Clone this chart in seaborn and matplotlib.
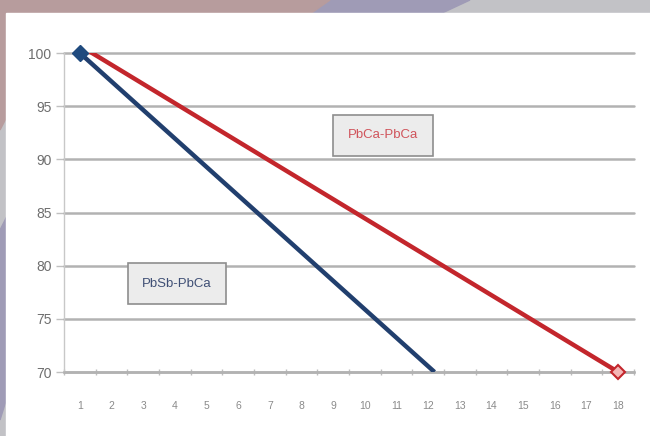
import matplotlib
matplotlib.use("Agg")
import matplotlib.pyplot as plt
from matplotlib.patches import Polygon
import seaborn as sns
import pandas as pd

# Series data: capacity (%) against cycle index
x_ticks = list(range(1, 19))
y_ticks = [70, 75, 80, 85, 90, 95, 100]

pbsb_x = [1, 12.2]
pbsb_y = [100, 70]
pbca_x = [1.22, 18]
pbca_y = [100.3, 70]

label_pbca = "PbCa-PbCa"
label_pbsb = "PbSb-PbCa"

sns.set_theme(style="white")
plt.rcParams['font.family'] = ['Liberation Sans Narrow', 'Liberation Sans', 'DejaVu Sans']

W, H = 650, 436
fig = plt.figure(figsize=(W / 100, H / 100), dpi=100)

# Decorative slide background
bg = fig.add_axes([0, 0, 1, 1])
bg.set_xlim(0, W)
bg.set_ylim(H, 0)
bg.axis("off")
bg.add_patch(Polygon([[0, 0], [W, 0], [W, H], [0, H]], color="#c2c2c6"))
bg.add_patch(Polygon([[130, 0], [470, 0], [440, 14], [110, 14], [0, 230], [0, 420]], color="#9f9bb6"))
bg.add_patch(Polygon([[0, 0], [330, 0], [310, 14], [60, 14], [0, 130]], color="#b79c9d"))
bg.add_patch(Polygon([[6, 13], [W, 13], [W, H], [6, H]], color="white"))

# Plot area
left, right = 64 / W, 634 / W
bottom, top = (H - 372) / H, (H - 53) / H
ax = fig.add_axes([left, bottom, right - left, top - bottom])
ax.set_facecolor("none")

df_sb = pd.DataFrame({"x": pbsb_x, "y": pbsb_y})
df_ca = pd.DataFrame({"x": pbca_x, "y": pbca_y})

sns.lineplot(data=df_ca, x="x", y="y", ax=ax, color="#c3262c", lw=3.2,
             solid_capstyle="butt", zorder=4)
sns.lineplot(data=df_sb, x="x", y="y", ax=ax, color="#213f6e", lw=3.2,
             solid_capstyle="butt", zorder=5)
ax.plot(pbsb_x[:1], pbsb_y[:1], marker="D", ms=8, color="#1f4a7e",
        ls="none", clip_on=False, zorder=6)
ax.plot(pbca_x[-1:], pbca_y[-1:], marker="D", ms=7, mfc="#f4b6b6",
        mec="#c3262c", mew=1.5, ls="none", clip_on=False, zorder=6)

ax.set_xlim(0.5, 18.5)
ax.set_ylim(70, 100)
ax.set_yticks(y_ticks)
ax.set_xticks(x_ticks)
ax.set_xticks([v + 0.5 for v in range(0, 19)], minor=True)
ax.set_xlabel("")
ax.set_ylabel("")

for yv in y_ticks:
    ax.axhline(yv, color="#b2b2b2", lw=1.8, zorder=1, clip_on=False)

for s in ["top", "right"]:
    ax.spines[s].set_visible(False)
ax.spines["left"].set_color("#c8c8c8")
ax.spines["left"].set_linewidth(1)
ax.spines["bottom"].set_color("#b2b2b2")
ax.spines["bottom"].set_linewidth(1.8)

ax.tick_params(axis="y", length=6, width=1, color="#c0c0c0", labelsize=10,
               labelcolor="#6e6e6e", pad=3, left=True)
ax.tick_params(axis="x", which="major", length=0, labelsize=7.5,
               labelcolor="#8a8a8a", pad=21)
ax.tick_params(axis="x", which="minor", length=4, width=1, color="#bdbdbd",
               direction="inout", bottom=True)

# Series labels in framed boxes
box_style = dict(boxstyle="square,pad=1.1", fc="#ececec", ec="#8e8e8e", lw=1.2)
ax.text(10.57, 92.25, label_pbca, ha="center", va="center", fontsize=9.5,
        color="#d0545b", bbox=box_style, zorder=7)
ax.text(4.07, 78.3, label_pbsb, ha="center", va="center", fontsize=9.5,
        color="#3f4f75", bbox=box_style, zorder=7)

fig.savefig("out.png", dpi=100)
